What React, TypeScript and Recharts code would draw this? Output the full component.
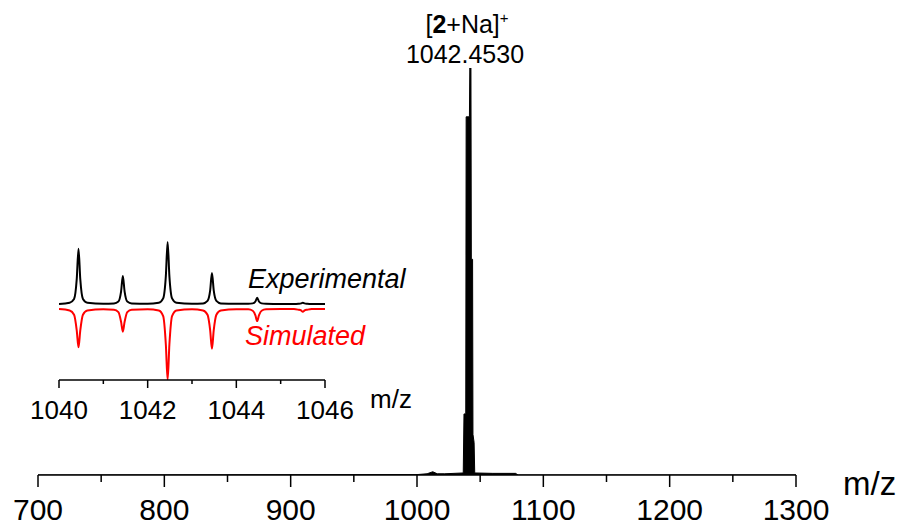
import { AreaChart, Area, LineChart, Line, XAxis, YAxis } from "recharts"

// main spectrum, m/z vs relative intensity (%)
const mainMz = [700, 1000, 1008, 1012.5, 1016, 1022, 1036.6, 1037.2, 1038.6, 1038.9, 1041.5, 1041.8, 1042.7, 1043.0, 1044.0, 1044.3, 1045.2, 1045.7, 1060, 1078, 1080, 1300]
const mainInt = [0, 0.1, 0.3, 0.8, 0.3, 0.3, 0.5, 15, 15, 88, 88, 100, 100, 53, 53, 10, 8, 0.5, 0.4, 0.4, 0, 0]
const mainMajorTicks = [700, 800, 900, 1000, 1100, 1200, 1300]
const mainMinorTicks = [750, 850, 950, 1050, 1150, 1250]

// inset: isotope pattern, experimental vs simulated (%)
const isoMz = [
  1040.0, 1040.24, 1040.34, 1040.4, 1040.44, 1040.48, 1040.54, 1040.64,
  1041.0,
  1041.24, 1041.34, 1041.4, 1041.44, 1041.48, 1041.54, 1041.64,
  1042.0,
  1042.25, 1042.35, 1042.41, 1042.45, 1042.49, 1042.55, 1042.65,
  1043.0,
  1043.25, 1043.35, 1043.41, 1043.45, 1043.49, 1043.55, 1043.65,
  1044.0,
  1044.27, 1044.37, 1044.43, 1044.47, 1044.51, 1044.57, 1044.67,
  1045.0,
  1045.3, 1045.4, 1045.46, 1045.5, 1045.54, 1045.6, 1045.7,
  1046.0,
]
const expInt = [
  0, 2, 8, 40, 89, 40, 8, 2,
  0.5,
  1, 4, 20, 45, 20, 4, 1,
  0.5,
  2, 9, 45, 100, 45, 9, 2,
  0.5,
  1, 5, 22, 50, 22, 5, 1,
  0.3,
  0.3, 1, 4, 10, 4, 1, 0.3,
  0,
  0, 0.4, 1, 2, 1, 0.4, 0,
  0,
]
const simInt = [
  0, 2, 8, 30, 54, 30, 8, 2,
  0.5,
  1, 4.5, 18, 32, 18, 4.5, 1,
  0.5,
  2, 10, 50, 100, 50, 10, 2,
  0.5,
  2, 8, 30, 56, 30, 8, 2,
  0.5,
  0.5, 2.5, 9, 17, 9, 2.5, 0.5,
  0,
  0, 1, 2, 4, 2, 1, 0,
  0,
]
const insetMajorTicks = [1040, 1042, 1044, 1046]
const insetMinorTicks = [1041, 1043, 1045]

const FONT = '"Liberation Sans", Arial, Helvetica, sans-serif'

// inset y scale is in pixels above the inset axis line
const EXP_BASE = 76
const EXP_SCALE = 0.62
const SIM_BASE = 71
const SIM_SCALE = 0.71

const mainData = mainMz.map((mz, i) => ({ mz, y: mainInt[i] }))
const expData = isoMz.map((mz, i) => ({ mz, y: EXP_BASE + expInt[i] * EXP_SCALE }))
const simData = isoMz.map((mz, i) => ({ mz, y: SIM_BASE - simInt[i] * SIM_SCALE }))

function makeTick(majors: number[], majorLen: number, minorLen: number, fontSize: number, labelDy: number) {
  // eslint-disable-next-line @typescript-eslint/no-explicit-any
  return (props: any) => {
    const { x, y, payload } = props
    const major = majors.includes(payload.value)
    return (
      <g>
        <line x1={x} x2={x} y1={y} y2={y + (major ? majorLen : minorLen)} stroke="#000" strokeWidth={1.5} />
        {major && (
          <text x={x} y={y + labelDy} textAnchor="middle" fontSize={fontSize} fontFamily={FONT} fill="#000">
            {payload.value}
          </text>
        )}
      </g>
    )
  }
}

const MainTick = makeTick(mainMajorTicks, 12, 7, 30, 45)
const InsetTick = makeTick(insetMajorTicks, 8, 4, 26, 39)

const abs = { position: "absolute" as const, left: 0, top: 0 }

export default function App() {
  return (
    <div style={{ ...abs, width: 909, height: 526, background: "#fff" }}>
      {/* main spectrum */}
      <div style={abs}>
        <AreaChart width={909} height={526} data={mainData} margin={{ top: 68, right: 113, bottom: 11, left: 38 }}>
          <XAxis
            dataKey="mz"
            type="number"
            domain={[700, 1300]}
            ticks={[...mainMajorTicks, ...mainMinorTicks].sort((a, b) => a - b)}
            interval={0}
            tickSize={0}
            tickMargin={0}
            height={40}
            axisLine={{ stroke: "#000", strokeWidth: 1.5 }}
            tickLine={false}
            tick={MainTick}
          />
          <YAxis hide domain={[0, 100]} allowDataOverflow />
          <Area
            type="linear"
            dataKey="y"
            stroke="#000"
            strokeWidth={1}
            fill="#000"
            fillOpacity={1}
            dot={false}
            activeDot={false}
            isAnimationActive={false}
          />
        </AreaChart>
      </div>

      {/* inset isotope pattern */}
      <div style={{ position: "absolute", left: 0, top: 200 }}>
        <LineChart width={420} height={230} margin={{ top: 40, right: 95, bottom: 10, left: 59 }}>
          <XAxis
            dataKey="mz"
            type="number"
            domain={[1040, 1046]}
            allowDataOverflow
            ticks={[...insetMajorTicks, ...insetMinorTicks].sort((a, b) => a - b)}
            interval={0}
            tickSize={0}
            tickMargin={0}
            height={40}
            axisLine={{ stroke: "#000", strokeWidth: 1.5 }}
            tickLine={false}
            tick={InsetTick}
          />
          <YAxis hide domain={[0, 140]} allowDataOverflow />
          <Line data={simData} type="monotone" dataKey="y" stroke="#ff0000" strokeWidth={2} dot={false} activeDot={false} isAnimationActive={false} />
          <Line data={expData} type="monotone" dataKey="y" stroke="#000" strokeWidth={2} dot={false} activeDot={false} isAnimationActive={false} />
        </LineChart>
      </div>

      {/* labels */}
      <svg width={909} height={526} style={{ ...abs, pointerEvents: "none" }} fontFamily={FONT}>
        <text x={467} y={33} textAnchor="middle" fontSize={25} fill="#000">
          [<tspan fontWeight="bold">2</tspan>+Na]<tspan fontSize={15} dy={-10}>+</tspan>
        </text>
        <text x={465} y={63} textAnchor="middle" fontSize={25} fill="#000">1042.4530</text>
        <text x={248} y={288} fontSize={27} fontStyle="italic" fill="#000">Experimental</text>
        <text x={245} y={345} fontSize={27} fontStyle="italic" fill="#ff0000">Simulated</text>
        <text x={370} y={408} fontSize={26} fill="#000">m/z</text>
        <text x={843} y={495} fontSize={33} fill="#000">m/z</text>
      </svg>
    </div>
  )
}
